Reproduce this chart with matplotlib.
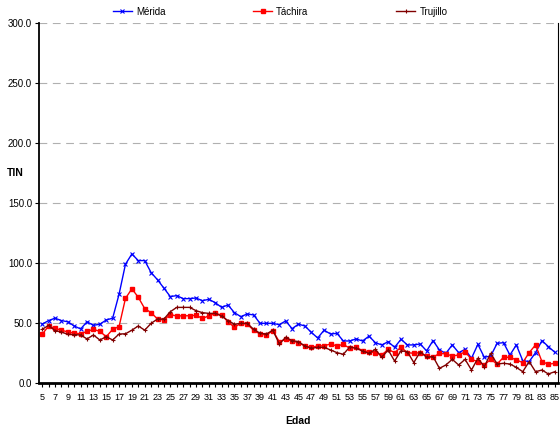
import numpy as np
import matplotlib
matplotlib.use("Agg")
import matplotlib.pyplot as plt

plt.rcParams["font.family"] = ["Liberation Sans", "DejaVu Sans"]

edad = list(range(5, 86))

merida = [49, 52, 54, 52, 51, 47.5, 45, 51, 48, 49, 52.5, 54, 74, 99, 107.5,
          102, 102, 92, 86, 79, 72, 72.8, 70.3, 70.3, 70.8, 68.6, 69.7, 67, 63, 65,
          58.6, 55.3, 57.5, 56.7, 49.7, 49.7, 49.7, 48.6, 51.7, 45.3, 49, 47.5, 42.2, 37.5, 44,
          40.8, 41.4, 35, 35, 36.7, 35, 39, 33.6, 31.7, 34.4, 29.7, 36.4, 31.7, 31.7, 32.5,
          26.7, 35.3, 27.5, 24.7, 31.7, 25.3, 28, 20.6, 32.2, 21.4, 22.5, 33, 33.6, 23.3, 31.7,
          18.6, 17.8, 25.3, 35.3, 30.3, 25.6]

tachira = [40.5, 47.5, 45.5, 44, 42.5, 41.5, 41, 43, 44.7, 43, 38.6, 44.7, 47, 70.5, 78.5,
           71.4, 62, 58.6, 53.3, 52.5, 57, 55.8, 56, 56, 56.4, 53.9, 55.8, 58, 56.7, 51,
           46.4, 49.7, 49, 44, 40.8, 40, 43.6, 34.4, 36.4, 35, 33.6, 30.8, 29.7, 30.8, 31,
           32.5, 30.8, 32.2, 28.9, 29.7, 27, 26, 25.3, 23.3, 28, 25.3, 29.7, 25.3, 24.7, 25.3,
           22.5, 21.4, 24.7, 24.2, 22.5, 23.3, 26, 19.7, 17.8, 15, 19.7, 15.8, 21.4, 21.4, 19.2,
           17, 25.3, 31.7, 17.8, 15.6, 16.4]

trujillo = [44.7, 48, 43.6, 42.5, 40.5, 40.3, 40, 36.7, 40, 35.8, 38.6, 35.8, 40.8, 41, 44,
            47.5, 44, 49.7, 53.3, 53.3, 59.4, 63, 63, 63, 60.3, 58.6, 58, 58, 55.8, 52,
            49, 49.7, 49.7, 44.7, 41.4, 40.8, 44, 32.5, 38, 35.3, 34.4, 30.8, 28.9, 29.7, 29.7,
            27.5, 25.3, 23.9, 30, 29, 26.5, 24.7, 28, 21.4, 27.5, 18.3, 26.9, 26, 17, 26,
            21.4, 22, 12.2, 15, 19.7, 15, 19.7, 10.8, 20.6, 13.6, 24.7, 15.8, 16.4, 15.8, 13,
            9.4, 17.8, 9.4, 10.8, 7.5, 9.4]

fig = plt.figure(figsize=(5.6, 4.26), dpi=100)
ax = fig.add_axes([0.0696, 0.101, 0.9268, 0.845])

ax.plot(edad, merida, color="#0000ff", marker="x", markersize=3, mew=0.8, lw=1.0, label="Mérida")
ax.plot(edad, tachira, color="#ff0000", marker="s", markersize=2.2, lw=1.0, label="Táchira")
ax.plot(edad, trujillo, color="#800000", marker="+", markersize=3.5, mew=0.8, lw=1.0, label="Trujillo")

ax.set_xlim(4.5, 85.5)
ax.set_ylim(0, 300)
ax.set_yticks(np.arange(0, 301, 50))
ax.set_yticklabels([f"{v:.1f}" for v in np.arange(0, 301, 50)], fontsize=7)
ax.set_xticks(edad)
ax.set_xticklabels([str(e) if e % 2 == 1 else "" for e in edad], fontsize=6.5)
ax.tick_params(axis="x", length=3, width=0.8, direction="out", pad=4)
ax.tick_params(axis="y", length=3, width=0.8, direction="out", pad=2)

for v in range(50, 301, 50):
    ax.axhline(v, color="#b0b0b0", lw=0.8, ls=(0, (7, 5)), zorder=0)

ax.spines["top"].set_visible(False)
ax.spines["left"].set_linewidth(1.3)
ax.spines["bottom"].set_linewidth(2)
ax.spines["right"].set_linewidth(0.8)

ax.set_xlabel("Edad", fontsize=7.5, fontweight="bold", labelpad=10)
fig.text(0.027, 0.595, "TIN", fontsize=7.5, fontweight="bold", ha="center", va="center")

fig.legend(loc="upper center", bbox_to_anchor=(0.5, 1.005), ncol=3, frameon=False,
           fontsize=7, handlelength=2.0, columnspacing=9, handletextpad=0.4)

fig.savefig("out.png", dpi=100)
